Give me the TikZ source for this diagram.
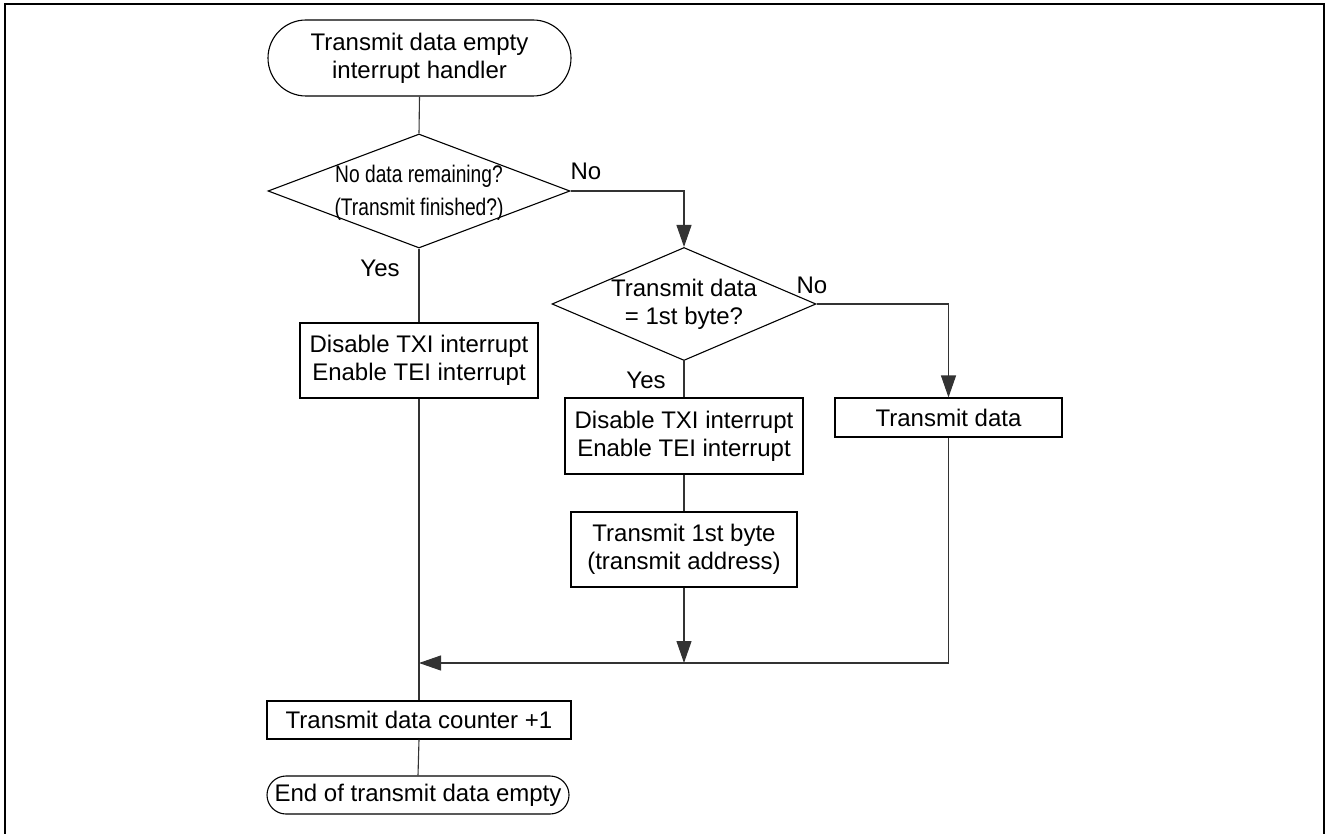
\documentclass[tikz,border=0pt]{standalone}
\usepackage{fontspec}
\setmainfont{Liberation Sans}
\newfontfamily\condfont[FakeStretch=0.8]{Liberation Sans}
\usetikzlibrary{shapes.geometric,arrows.meta}
\begin{document}
\begin{tikzpicture}[x=1pt,y=-1pt,
  every node/.style={font=\fontsize{24}{28}\selectfont},
  box/.style={draw, line width=1.1pt, rectangle, inner sep=0pt, align=center},
  term/.style={box},
  dec/.style={draw, line width=1.1pt, diamond, inner sep=0pt},
  lbl/.style={inner sep=0pt},
  conn/.style={line width=1.1pt, draw=black!80},
  arr/.style={conn, -{Triangle[length=22pt,width=15pt]}}
]
\useasboundingbox (0,0) rectangle (1327,834);
\draw[line width=2.6pt] (5,834) -- (5,4) -- (1324,4) -- (1324,834);

% terminals
\node[term, rounded corners=38pt, minimum width=303pt, minimum height=76pt] (start) at (419.5,58)
  {Transmit data empty\\interrupt handler};
\node[term, rounded corners=19pt, minimum width=302pt, minimum height=38pt] (stop) at (418,795)
  {End of transmit data empty};

% decisions
\node[dec, minimum width=302pt, minimum height=114pt] (d1) at (419,191) {};
\node[lbl, align=center, font=\condfont\fontsize{24}{33}\selectfont] (d1t) at (419,193)
  {No data remaining?\\(Transmit finished?)};
\node[dec, minimum width=264pt, minimum height=113pt] (d2) at (684,304) {};
\node[lbl, align=center] (d2t) at (684,304) {Transmit data\\= 1st byte?};

% process boxes
\node[box, minimum width=238pt, minimum height=75pt] (bx1) at (419,360.5)
  {Disable TXI interrupt\\Enable TEI interrupt};
\node[box, minimum width=238pt, minimum height=76pt] (bx2) at (684,436)
  {Disable TXI interrupt\\Enable TEI interrupt};
\node[box, minimum width=227pt, minimum height=39pt] (bx3) at (948.5,417.5) {Transmit data};
\node[box, minimum width=226pt, minimum height=75pt] (bx4) at (684,549.5)
  {Transmit 1st byte\\(transmit address)};
\node[box, minimum width=304pt, minimum height=38pt] (bx5) at (419,720) {Transmit data counter +1};

% labels
\node[lbl] (no1) at (586,171) {No};
\node[lbl] (yes1) at (380,268) {Yes};
\node[lbl] (no2) at (812,285) {No};
\node[lbl] (yes2) at (646,380) {Yes};

\coordinate (merge) at (419,663);

% connectors
\draw[conn] (start.south) -- (d1.north);
\draw[arr] (d1.east) -| (d2.north);
\draw[conn] (d1.south) -- (bx1.north);
\draw[conn] (bx1.south) -- (bx5.north);
\draw[arr] (d2.east) -| (bx3.north);
\draw[conn] (d2.south) -- (bx2.north);
\draw[conn] (bx2.south) -- (bx4.north);
\draw[arr] (bx4.south) -- (bx4.south |- merge);
\draw[arr] (bx3.south) |- (merge);
\draw[conn] (bx5.south) -- (stop.north);
\end{tikzpicture}
\end{document}
